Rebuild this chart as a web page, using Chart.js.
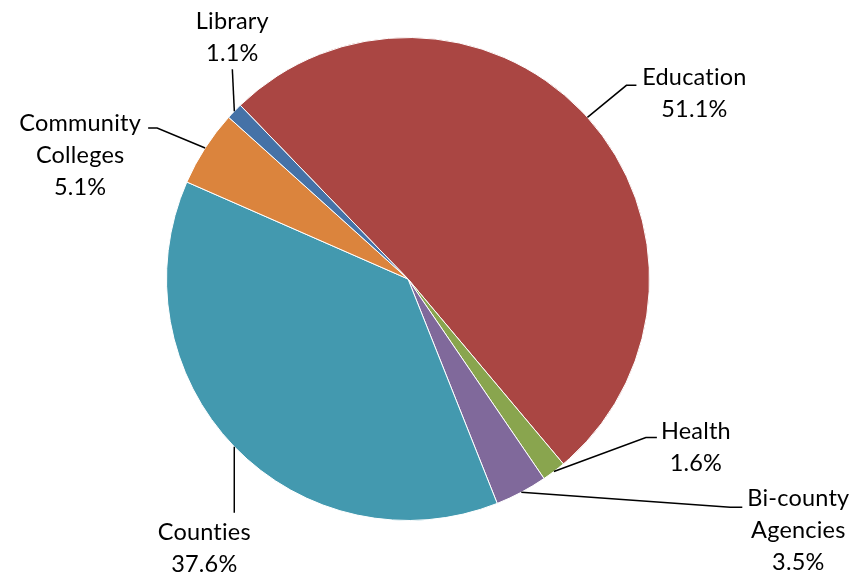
<!DOCTYPE html>
<html>
<head>
<meta charset="utf-8">
<script src="https://cdn.jsdelivr.net/npm/chart.js@4"></script>
<style>
html,body{margin:0;padding:0;background:#fff;}
#wrap{width:865px;height:579px;position:relative;}
</style>
</head>
<body>
<div id="wrap"><canvas id="c" width="865" height="579"></canvas></div>
<script>
const categories = ["Education", "Health", "Bi-county Agencies", "Counties", "Community Colleges", "Library"];
const shares = [51.1, 1.6, 3.5, 37.6, 5.1, 1.1];
const sliceColors = ["#AA4643", "#89A54E", "#80699B", "#4399AF", "#DB843D", "#4572A7"];

// label layout (offsets from the slice edge point at mid-angle)
const labelLayout = [
  { leader: [[39, -32], [49, -32]], text: [107, -40] },
  { leader: [[92, -34], [103, -34]], text: [142, -40] },
  { leader: [[209, 15], [221, 15]], text: [277, 6] },
  { leader: [[0, 66]], text: [-30, 86] },
  { leader: [[-48, -20], [-57, -20]], text: [-125, -25] },
  { leader: [[-2, -42]], text: [-2, -90] }
];

const FONT = '23.5px Lato, "Open Sans", sans-serif';
const LINE_H = 32;

const leaderPlugin = {
  id: 'leaderLabels',
  afterDatasetsDraw(chart) {
    const ctx = chart.ctx;
    const meta = chart.getDatasetMeta(0);
    ctx.save();
    meta.data.forEach((arc, i) => {
      const p = arc.getProps(['x', 'y', 'startAngle', 'endAngle', 'outerRadius'], true);
      const mid = (p.startAngle + p.endAngle) / 2;
      const ex = p.x + Math.cos(mid) * p.outerRadius;
      const ey = p.y + Math.sin(mid) * p.outerRadius;
      const lay = labelLayout[i];
      ctx.strokeStyle = '#000';
      ctx.lineWidth = 1.5;
      ctx.beginPath();
      ctx.moveTo(ex, ey);
      lay.leader.forEach(([dx, dy]) => ctx.lineTo(ex + dx, ey + dy));
      ctx.stroke();
      const lines = categories[i].split(' ').concat([shares[i].toFixed(1) + '%']);
      ctx.fillStyle = '#000';
      ctx.font = FONT;
      if ('letterSpacing' in ctx) ctx.letterSpacing = '0.2px';
      ctx.textAlign = 'center';
      ctx.textBaseline = 'middle';
      lines.forEach((t, k) => {
        ctx.fillText(t, ex + lay.text[0], ey + lay.text[1] + k * LINE_H);
      });
    });
    ctx.restore();
  }
};

new Chart(document.getElementById('c'), {
  type: 'pie',
  data: {
    labels: categories,
    datasets: [{
      data: shares,
      backgroundColor: sliceColors,
      borderColor: '#ffffff',
      borderWidth: 1
    }]
  },
  options: {
    responsive: false,
    animation: false,
    rotation: -44,
    layout: { padding: { top: 37, bottom: 58, left: 166, right: 215 } },
    plugins: {
      legend: { display: false },
      tooltip: { enabled: false }
    }
  },
  plugins: [leaderPlugin]
});
</script>
</body>
</html>
